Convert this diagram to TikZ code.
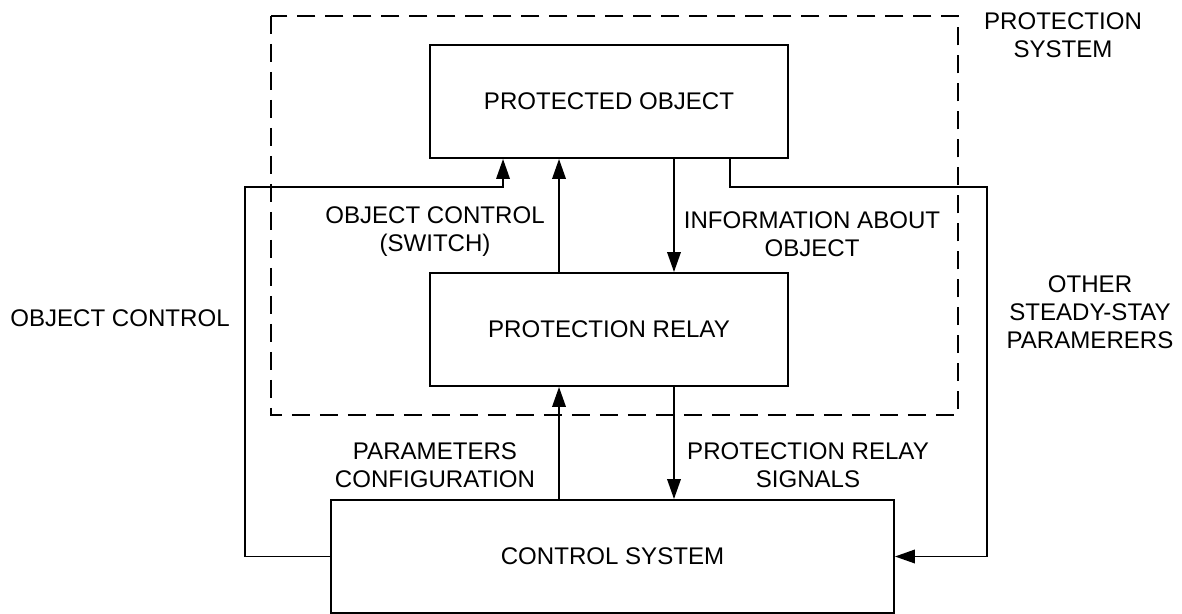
\documentclass[tikz,border=0pt]{standalone}
\usepackage{fontspec}
\setmainfont{Liberation Sans}
\usetikzlibrary{positioning,arrows.meta}

\tikzset{
  block/.style={draw,line width=1.1pt,minimum width=7.16cm,minimum height=2.26cm,inner sep=0pt},
  lbl/.style={align=center,inner sep=0pt},
  arr/.style={line width=1.1pt,-{Triangle[length=0.4cm,width=0.27cm]}},
  wire/.style={line width=1.1pt},
  sysbox/.style={line width=1.1pt,dash pattern=on 0.36cm off 0.2cm}
}

\begin{document}
\begin{tikzpicture}[x=0.02cm,y=-0.02cm,font=\fontsize{13.7}{16}\selectfont]
  \useasboundingbox (0,0) rectangle (1182,614);

  % protection system frame
  \draw [sysbox] (271,16) rectangle (958,415);
  \node [lbl] (sysLbl) at (1063,35) {PROTECTION\\SYSTEM};

  % blocks
  \node [block] (PO) at (609,101.5) {PROTECTED OBJECT};
  \node [block] (PR) at (609,329.5) {PROTECTION RELAY};
  \node [block,minimum width=11.26cm] (CS) at (612.5,556.5) {CONTROL SYSTEM};

  % lanes
  \coordinate (swX) at ([xshift=-1cm]PO.south);
  \coordinate (infX) at ([xshift=1.3cm]PO.south);
  \coordinate (ocX) at ([xshift=-2.12cm]PO.south);
  \coordinate (opX) at ([xshift=2.42cm]PO.south);
  \coordinate (lCorner) at (245,187);
  \coordinate (rCorner) at (987,187);

  % connectors
  \draw [arr] (PR.north -| swX) -- (swX);
  \draw [arr] (infX) -- (infX |- PR.north);
  \draw [arr] (CS.north -| swX) -- (PR.south -| swX);
  \draw [arr] (PR.south -| infX) -- (CS.north -| infX);
  \draw [arr] (CS.west) -| (lCorner) -| (ocX);
  \draw [arr] (opX) |- (rCorner) |- (CS.east);

  % labels
  \node [lbl] (ocLbl) at (120,318) {OBJECT CONTROL};
  \node [lbl] (swLbl) at (435,232) {OBJECT CONTROL\\(SWITCH)};
  \node [lbl] (infLbl) at (812,234) {INFORMATION ABOUT\\OBJECT};
  \node [lbl] (parLbl) at (435,465) {PARAMETERS\\CONFIGURATION};
  \node [lbl] (sigLbl) at (808,465) {PROTECTION RELAY\\SIGNALS};
  \node [lbl] (othLbl) at (1090,312) {OTHER\\STEADY-STAY\\PARAMERERS};
\end{tikzpicture}
\end{document}
